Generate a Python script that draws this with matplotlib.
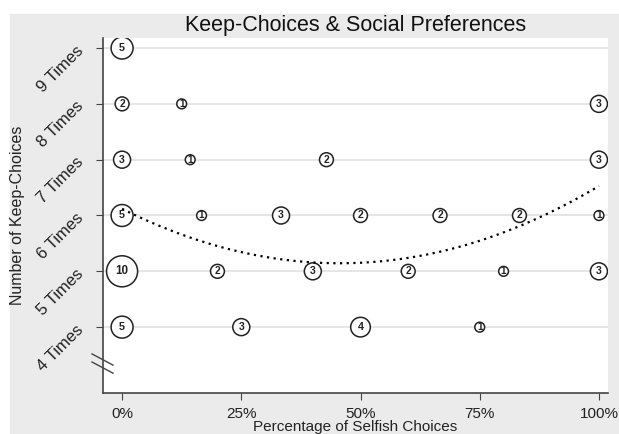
import numpy as np
import matplotlib.pyplot as plt
from matplotlib.patches import Rectangle

plt.rcParams['font.family'] = ['Liberation Sans', 'DejaVu Sans']

# share of selfish choices, number of keep-choices, number of subjects
selfish = [0, 0, 0.125, 1,
           0, 1/7, 3/7, 1,
           0, 1/6, 1/3, 0.5, 2/3, 5/6, 1,
           0, 0.2, 0.4, 0.6, 0.8, 1,
           0, 0.25, 0.5, 0.75]
keeps = [9, 8, 8, 8,
         7, 7, 7, 7,
         6, 6, 6, 6, 6, 6, 6,
         5, 5, 5, 5, 5, 5,
         4, 4, 4, 4]
counts = [5, 2, 1, 3,
          3, 1, 2, 3,
          5, 1, 3, 2, 2, 2, 1,
          10, 2, 3, 2, 1, 3,
          5, 3, 4, 1]

ytick_vals = [4, 5, 6, 7, 8, 9]
ytick_labels = ['4 Times', '5 Times', '6 Times', '7 Times', '8 Times', '9 Times']
xtick_vals = [0, 0.25, 0.5, 0.75, 1]
xtick_labels = ['0%', '25%', '50%', '75%', '100%']

x = np.array(selfish)
y = np.array(keeps)
n = np.array(counts)

fig = plt.figure(figsize=(6.19, 4.34), dpi=100)
fig.patches.append(Rectangle((10 / 619, 0), 1, (434 - 14) / 434,
                             transform=fig.transFigure, color='#ebebeb', zorder=-10))

ax = fig.add_axes([103 / 619, 41 / 434, 505 / 619, 355 / 434])
ax.set_facecolor('white')

for v in ytick_vals:
    ax.axhline(v, color='#e2e2e2', lw=1.2, zorder=1)

# circles scaled by number of subjects
ax.scatter(x, y, s=50 * n, facecolor='white', edgecolor='#222222', lw=1.1, zorder=3)
for xi, yi, ni in zip(x, y, n):
    ax.text(xi, yi, str(ni), ha='center', va='center', fontsize=6.5 + 0.6 * np.sqrt(ni),
            fontweight='bold', color='#222222', zorder=4)

# quadratic fit over all subjects
coef = np.polyfit(np.repeat(x, n), np.repeat(y, n), 2)
xs = np.linspace(0, 1, 200)
ax.plot(xs, np.polyval(coef, xs), color='black', lw=1.6, ls=(0, (1, 2)), zorder=5)

ax.set_xlim(-0.04, 1.019)
ax.set_ylim(2.82, 9.18)
ax.set_xticks(xtick_vals)
ax.set_xticklabels(xtick_labels, fontsize=11, color='#222222')
ax.set_yticks(ytick_vals)
ax.set_yticklabels(ytick_labels, fontsize=12, color='#222222',
                   rotation=45, ha='right', va='center', rotation_mode='anchor')
ax.tick_params(axis='x', length=5, pad=5, color='#444444')
ax.tick_params(axis='y', length=5, pad=11, color='#444444')

for side in ['top', 'right']:
    ax.spines[side].set_visible(False)
for side in ['left', 'bottom']:
    ax.spines[side].set_color('#444444')
    ax.spines[side].set_linewidth(1.2)

# axis break marks
for off in [0, 0.145]:
    ax.plot([-0.063, -0.019], [3.52 - off, 3.32 - off], color='#444444', lw=1.0,
            clip_on=False, zorder=6)

ax.set_title('Keep-Choices & Social Preferences', fontsize=15.5, pad=5, color='#111111')
ax.set_xlabel('Percentage of Selfish Choices', fontsize=11, labelpad=-1, color='#222222')
ax.set_ylabel('Number of Keep-Choices', fontsize=11.5, color='#222222')
ax.yaxis.set_label_coords(-78 / 505, 0.5)

fig.savefig('out.png', dpi=100)
